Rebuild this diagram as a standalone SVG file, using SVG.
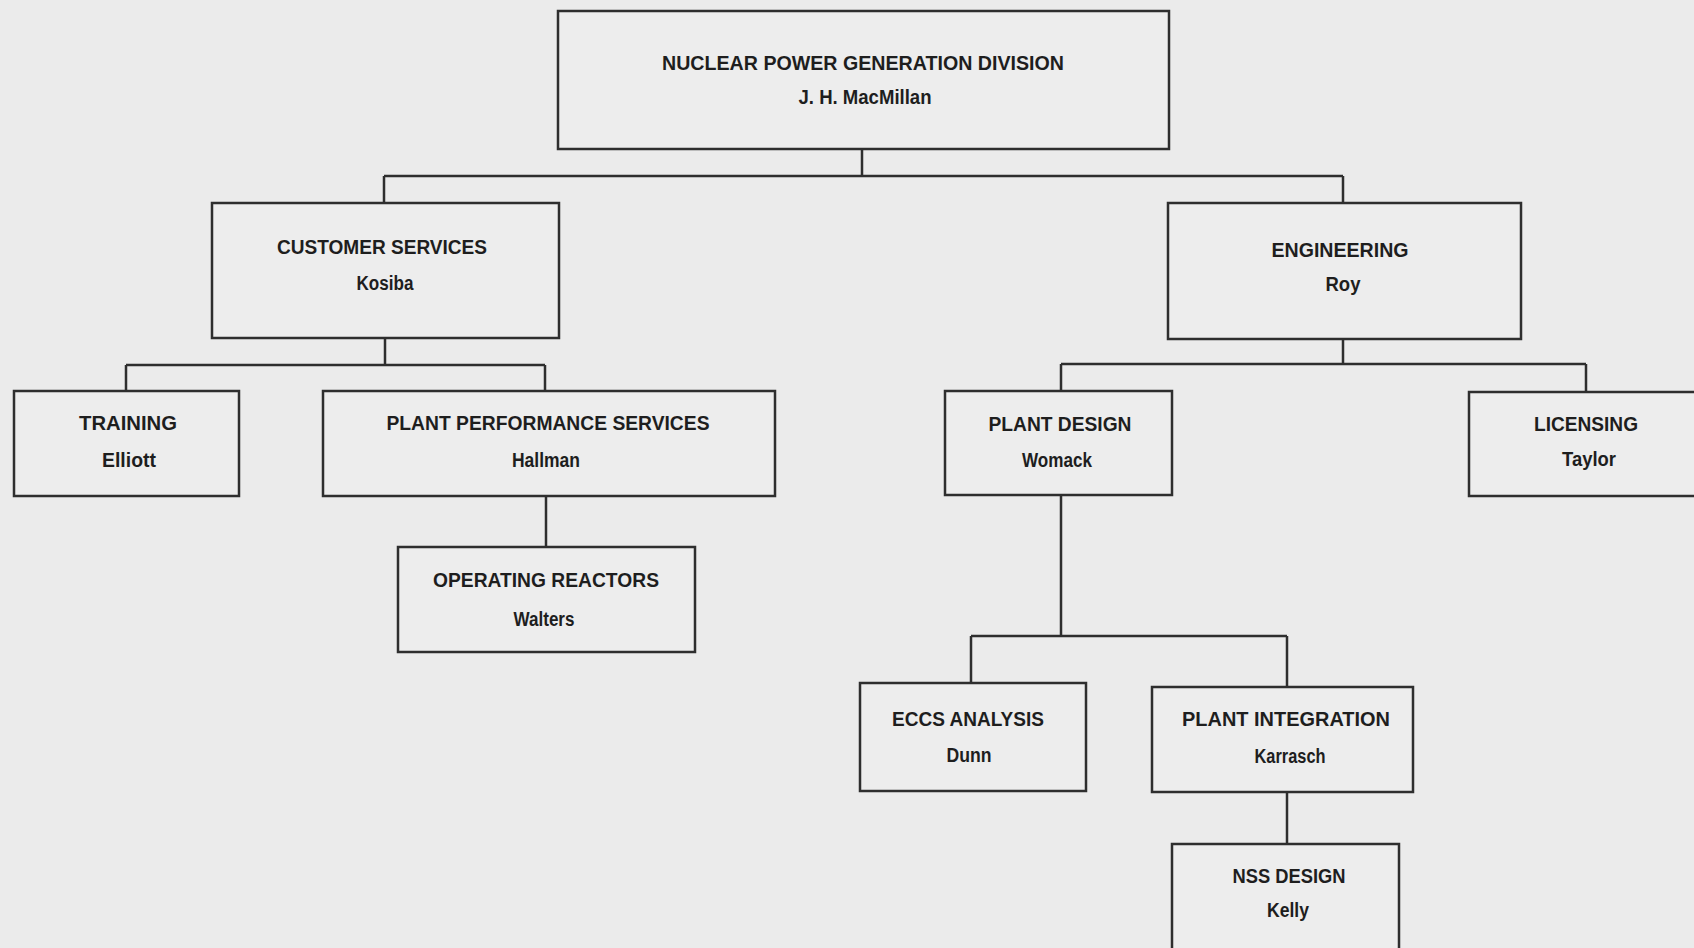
<svg xmlns="http://www.w3.org/2000/svg" width="1694" height="948" viewBox="0 0 1694 948">
<style>
.bg{fill:#ebebeb}
.box{fill:#ededed;stroke:#2e2e2e;stroke-width:2.5}
.conn{fill:none;stroke:#2e2e2e;stroke-width:2.5}
text{font-family:"Liberation Sans",Arial,sans-serif;font-size:20px;font-weight:bold;fill:#1e1e1e;text-anchor:middle}
</style>
<rect class="bg" x="0" y="0" width="1694" height="948"/>
<g id="connectors">
<path class="conn" d="M862 149V176M384 176H1343M384 176V203M1343 176V203"/>
<path class="conn" d="M385 338V365M126 365H545M126 365V391M545 365V391"/>
<path class="conn" d="M546 496V547"/>
<path class="conn" d="M1343 339V364M1061 364H1586M1061 364V391M1586 364V392"/>
<path class="conn" d="M1061 495V636M971 636H1287M971 636V683M1287 636V687"/>
<path class="conn" d="M1287 792V844"/>
</g>
<g id="node-npgd">
<rect class="box" x="558" y="11" width="611" height="138"/>
<text x="863" y="70" textLength="402" lengthAdjust="spacingAndGlyphs">NUCLEAR POWER GENERATION DIVISION</text>
<text x="865" y="104" textLength="133" lengthAdjust="spacingAndGlyphs">J. H. MacMillan</text>
</g>
<g id="node-customer-services">
<rect class="box" x="212" y="203" width="347" height="135"/>
<text x="382" y="254" textLength="210" lengthAdjust="spacingAndGlyphs">CUSTOMER SERVICES</text>
<text x="385" y="290" textLength="57" lengthAdjust="spacingAndGlyphs">Kosiba</text>
</g>
<g id="node-engineering">
<rect class="box" x="1168" y="203" width="353" height="136"/>
<text x="1340" y="257" textLength="137" lengthAdjust="spacingAndGlyphs">ENGINEERING</text>
<text x="1343" y="291" textLength="35" lengthAdjust="spacingAndGlyphs">Roy</text>
</g>
<g id="node-training">
<rect class="box" x="14" y="391" width="225" height="105"/>
<text x="128" y="430" textLength="98" lengthAdjust="spacingAndGlyphs">TRAINING</text>
<text x="129" y="467" textLength="54" lengthAdjust="spacingAndGlyphs">Elliott</text>
</g>
<g id="node-pps">
<rect class="box" x="323" y="391" width="452" height="105"/>
<text x="548" y="430" textLength="323" lengthAdjust="spacingAndGlyphs">PLANT PERFORMANCE SERVICES</text>
<text x="546" y="467" textLength="68" lengthAdjust="spacingAndGlyphs">Hallman</text>
</g>
<g id="node-operating-reactors">
<rect class="box" x="398" y="547" width="297" height="105"/>
<text x="546" y="587" textLength="226" lengthAdjust="spacingAndGlyphs">OPERATING REACTORS</text>
<text x="544" y="626" textLength="61" lengthAdjust="spacingAndGlyphs">Walters</text>
</g>
<g id="node-plant-design">
<rect class="box" x="945" y="391" width="227" height="104"/>
<text x="1060" y="431" textLength="143" lengthAdjust="spacingAndGlyphs">PLANT DESIGN</text>
<text x="1057" y="467" textLength="70" lengthAdjust="spacingAndGlyphs">Womack</text>
</g>
<g id="node-licensing">
<rect class="box" x="1469" y="392" width="240" height="104"/>
<text x="1586" y="431" textLength="104" lengthAdjust="spacingAndGlyphs">LICENSING</text>
<text x="1589" y="466" textLength="54" lengthAdjust="spacingAndGlyphs">Taylor</text>
</g>
<g id="node-eccs">
<rect class="box" x="860" y="683" width="226" height="108"/>
<text x="968" y="726" textLength="152" lengthAdjust="spacingAndGlyphs">ECCS ANALYSIS</text>
<text x="969" y="762" textLength="45" lengthAdjust="spacingAndGlyphs">Dunn</text>
</g>
<g id="node-plant-integration">
<rect class="box" x="1152" y="687" width="261" height="105"/>
<text x="1286" y="726" textLength="208" lengthAdjust="spacingAndGlyphs">PLANT INTEGRATION</text>
<text x="1290" y="763" textLength="71" lengthAdjust="spacingAndGlyphs">Karrasch</text>
</g>
<g id="node-nss-design">
<rect class="box" x="1172" y="844" width="227" height="120"/>
<text x="1289" y="883" textLength="113" lengthAdjust="spacingAndGlyphs">NSS DESIGN</text>
<text x="1288" y="917" textLength="42" lengthAdjust="spacingAndGlyphs">Kelly</text>
</g>
</svg>
